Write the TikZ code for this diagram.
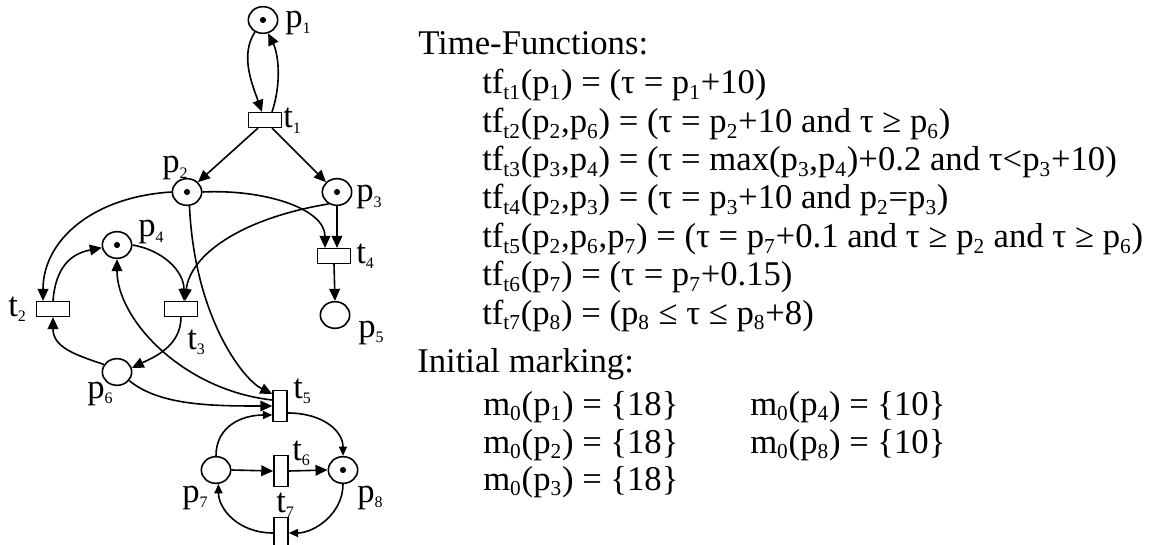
\documentclass[tikz,border=0pt]{standalone}
\usepackage{fontspec}
\setmainfont{Liberation Serif}
\usetikzlibrary{calc,arrows.meta,shapes.geometric}
\newcommand{\lo}[1]{\raisebox{-0.17em}{\fontsize{16}{16}\selectfont #1}\kern0.6pt\relax}
\newcommand{\nlo}[1]{\raisebox{-0.15em}{\fontsize{12}{12}\selectfont #1}}

\begin{document}
\begin{tikzpicture}[x=0.75pt, y=-0.75pt,
    place/.style={draw, ellipse, line width=1.2pt, minimum width=22pt, minimum height=20pt, inner sep=0pt},
    trans/.style={draw, rectangle, line width=1.1pt, minimum width=24.5pt, minimum height=11pt, inner sep=0pt},
    vtrans/.style={trans, minimum width=10.5pt, minimum height=23.5pt},
    arc/.style={line width=1.2pt, -{Triangle[length=9pt,width=8pt]}},
    small arc/.style={line width=1.2pt, -{Triangle[length=7pt,width=6pt]}},
    lab/.style={anchor=base west, inner sep=0pt, font=\fontsize{26}{28}\selectfont},
    txt/.style={anchor=base west, inner sep=0pt, font=\fontsize{26}{29}\selectfont}]

    \useasboundingbox (0,0) rectangle (1155,545);
    \clip (0,0) rectangle (1155,545);

    % places and transitions
    \node[place] (p1) at (263,20) {};
    \node[place] (p2) at (187,192) {};
    \node[place] (p3) at (337,192) {};
    \node[place] (p4) at (117,245) {};
    \node[place] (p5) at (335,315) {};
    \node[place] (p6) at (117,372) {};
    \node[place] (p7) at (216,470) {};
    \node[place] (p8) at (343,470) {};

    \node[trans] (t1) at (265,120) {};
    \node[trans] (t2) at (53,309) {};
    \node[trans] (t3) at (181,309) {};
    \node[trans] (t4) at (334,256) {};
    \node[vtrans] (t5) at (280,406) {};
    \node[vtrans] (t6) at (281,471) {};
    \node[vtrans] (t7) at (281,533) {};

    \foreach \p in {p1,p2,p3,p4,p8} {\fill (\p) circle (2.3pt);}

    % arcs
    \draw[arc] (p1.236) .. controls +(-15,23) and +(-10,-28) .. ($(t1.north)+(-3,0)$);
    \draw[arc] ($(t1.north)+(7,0)$) .. controls +(10,-30) and +(10,20) .. (p1.291);
    \draw[arc] ($(t1.south)+(-7,0)$) -- (p2.42);
    \draw[arc] ($(t1.south)+(7,0)$) -- (p3.138);
    \draw[arc] (p2.east) .. controls +(60,-3) and +(0,-40) .. ($(t4.north)+(-9,0)$);
    \draw[arc] (p3.south) -- (p3.south |- t4.north);
    \draw[arc] (t4.south) -- (p5.north);
    \draw[arc] (p2.west) .. controls +(-80,5) and +(0,-60) .. ($(t2.north)+(-10,0)$);
    \draw[arc] (t2.north) .. controls +(3,-40) and +(-25,5) .. (p4.190);
    \draw[arc] (p4.east) .. controls +(30,5) and +(0,-30) .. ($(t3.north)+(3,0)$);
    \draw[arc] (p3.235) .. controls +(-90,15) and +(5,-45) .. ($(t3.north)+(4,0)$);
    \draw[arc] (p2.280) .. controls +(5,110) and +(-30,-15) .. ($(t5.west)+(0,-12)$);
    \draw[arc] ($(t5.west)+(0,-6)$) .. controls +(-90,-10) and +(0,60) .. (p4.south);
    \draw[arc] (t3.south) .. controls +(0,30) and +(20,-10) .. (p6.15);
    \draw[arc] (p6.150) .. controls +(-30,-10) and +(0,30) .. (t2.south);
    \draw[arc] (p6.-35) .. controls +(30,25) and +(-60,0) .. (t5.west);
    \draw[small arc] (p7.north) .. controls +(0,-30) and +(-30,0) .. ($(t5.west)+(0,9)$);
    \draw[small arc] ($(t5.east)+(0,7)$) .. controls +(35,0) and +(0,-25) .. (p8.north);
    \draw[arc] (p7.east) -- (t6.west);
    \draw[arc] (t6.east) -- (p8.west);
    \draw[small arc] (p8.south) .. controls +(0,30) and +(25,0) .. (t7.east);
    \draw[small arc] (t7.west) .. controls +(-35,0) and +(0,25) .. (p7.-80);

    % labels of the net
    \foreach \c/\s/\x/\y in {p/1/285/28, t/1/283/128, p/2/162/173, p/3/356/202,
        p/4/138/237, t/4/356/263, t/2/8/316, t/3/187/349, p/5/358/337,
        p/6/87/398, t/5/293/398, t/6/292/460, p/7/182/502, p/8/357/502, t/7/276/512}
        {\node[lab] (l\c\s) at (\x,\y) {\c\nlo{\s}};}

    % time functions and marking
    \node[txt] (title) at (418,55) {Time-Functions:};
    \node[txt] (tf1) at (482,94) {tf\lo{t1}(p\lo{1}) = (τ = p\lo{1}+10)};
    \node[txt] (tf2) at (482,132.3) {tf\lo{t2}(p\lo{2},p\lo{6}) = (τ = p\lo{2}+10 and τ ≥ p\lo{6})};
    \node[txt] (tf3) at (482,170.7) {tf\lo{t3}(p\lo{3},p\lo{4}) = (τ = max(p\lo{3},p\lo{4})+0.2 and τ<p\lo{3}+10)};
    \node[txt] (tf4) at (482,209) {tf\lo{t4}(p\lo{2},p\lo{3}) = (τ = p\lo{3}+10 and p\lo{2}=p\lo{3})};
    \node[txt] (tf5) at (482,247.3) {tf\lo{t5}(p\lo{2},p\lo{6},p\lo{7}) = (τ = p\lo{7}+0.1 and τ ≥ p\lo{2} and τ ≥ p\lo{6})};
    \node[txt] (tf6) at (482,285.7) {tf\lo{t6}(p\lo{7}) = (τ = p\lo{7}+0.15)};
    \node[txt] (tf7) at (482,324) {tf\lo{t7}(p\lo{8}) = (p\lo{8} ≤ τ ≤ p\lo{8}+8)};

    \node[txt] (init) at (417,372) {Initial marking:};
    \node[txt] (m1) at (483,415) {m\lo{0}(p\lo{1}) = \{18\}};
    \node[txt] (m2) at (483,453) {m\lo{0}(p\lo{2}) = \{18\}};
    \node[txt] (m3) at (483,490) {m\lo{0}(p\lo{3}) = \{18\}};
    \node[txt] (m4) at (750,415) {m\lo{0}(p\lo{4}) = \{10\}};
    \node[txt] (m8) at (750,453) {m\lo{0}(p\lo{8}) = \{10\}};
\end{tikzpicture}
\end{document}
